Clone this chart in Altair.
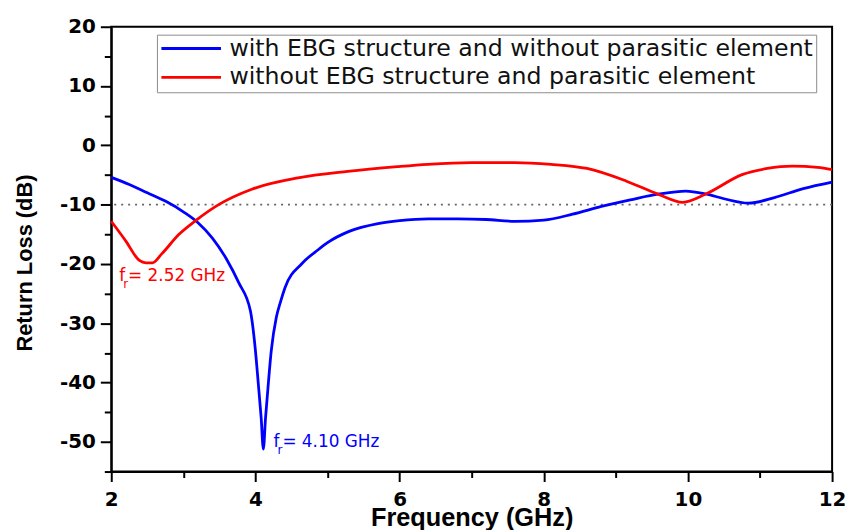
import altair as alt
import pandas as pd

SERIES_BLUE = "with EBG structure and without parasitic element"
SERIES_RED = "without EBG structure and parasitic element"

blue_freq = [2.0, 2.25, 2.5, 2.75, 3.0, 3.2, 3.4, 3.6, 3.77, 3.93, 4.0, 4.04, 4.08, 4.11,
             4.14, 4.16, 4.22, 4.29, 4.35, 4.41, 4.64, 4.87, 5.0, 5.3, 5.7, 6.0, 6.4, 6.8,
             7.2, 7.6, 8.0, 8.4, 8.8, 9.2, 9.6, 9.97, 10.25, 10.5, 10.84, 11.2, 11.6, 12.0]
blue_rl = [-5.4, -6.6, -8.0, -9.4, -11.2, -13.0, -15.6, -19.2, -23.2, -27.9, -34.6, -40.2,
           -46.0, -51.2, -46.0, -43.0, -34.6, -29.0, -26.3, -24.0, -20.0, -17.6, -16.4,
           -14.5, -13.2, -12.7, -12.4, -12.4, -12.5, -12.8, -12.6, -11.6, -10.3, -9.2,
           -8.2, -7.7, -8.2, -9.0, -9.75, -8.8, -7.3, -6.2]

red_freq = [2.0, 2.2, 2.39, 2.48, 2.57, 2.7, 2.94, 3.17, 3.49, 3.95, 4.59, 5.28, 5.97,
            6.39, 7.0, 7.59, 8.1, 8.6, 9.14, 9.6, 9.93, 10.25, 10.76, 11.1, 11.45, 11.8, 12.0]
red_rl = [-12.8, -16.1, -19.4, -19.8, -19.8, -18.3, -15.0, -12.7, -10.0, -7.4, -5.5, -4.4,
          -3.6, -3.2, -2.9, -2.9, -3.2, -3.9, -6.0, -8.3, -9.6, -8.2, -4.9, -3.9, -3.5,
          -3.7, -4.1]

x_major = [2, 4, 6, 8, 10, 12]
x_minor = [3, 5, 7, 9, 11]
y_major = [-50, -40, -30, -20, -10, 0, 10, 20]
y_minor = [-55, -45, -35, -25, -15, -5, 5, 15]
threshold = [-10]

ann_x = [2.11, 4.25]
ann_y = [-22.9, -50.8]
ann_text = ["= 2.52 GHz", "= 4.10 GHz"]
ann_sym = ["f", "f"]
ann_sub = ["r", "r"]
ann_color = ["#ff0000", "#0000ff"]

df = pd.DataFrame({
    "freq": blue_freq + red_freq,
    "rl": blue_rl + red_rl,
    "series": [SERIES_BLUE] * len(blue_freq) + [SERIES_RED] * len(red_freq),
})
ann = pd.DataFrame({"freq": ann_x, "rl": ann_y, "t": ann_text, "s": ann_sym,
                    "sub": ann_sub, "c": ann_color})
thr = pd.DataFrame({"rl": threshold})
xm = pd.DataFrame({"freq": x_minor})
ym = pd.DataFrame({"rl": y_minor})

x_scale = alt.Scale(domain=[2, 12], nice=False, zero=False)
y_scale = alt.Scale(domain=[-55, 20], nice=False, zero=False)

minus_fix = "replace(datum.label, '\u2212', '-')"

x_axis = alt.Axis(
    orient="bottom", values=x_major, tickSize=10, labelExpr=minus_fix,
    labelFlush=False, labelOverlap=False, labelPadding=8,
    title="Frequency (GHz)", titleFont="Liberation Sans", titleFontSize=25.5,
    titleFontWeight="bold", titleY=54, titleBaseline="alphabetic", titleColor="black",
)
y_axis = alt.Axis(
    orient="left", values=y_major, tickSize=11, labelExpr=minus_fix,
    labelOverlap=False, labelPadding=5,
    title="Return Loss (dB)", titleFont="Liberation Sans", titleFontSize=22,
    titleFontWeight="bold", titleX=-80, titleY=237.5, titleBaseline="alphabetic",
    titleAngle=270, titleColor="black",
)
x_axis_minor = alt.Axis(orient="bottom", values=x_minor, tickSize=6, labels=False,
                        domain=False, title=None)
y_axis_minor = alt.Axis(orient="left", values=y_minor, tickSize=7, labels=False,
                        domain=False, title=None)

lines = alt.Chart(df).mark_line(strokeWidth=2.8, interpolate="monotone").encode(
    x=alt.X("freq:Q", scale=x_scale, axis=x_axis),
    y=alt.Y("rl:Q", scale=y_scale, axis=y_axis),
    color=alt.Color(
        "series:N",
        scale=alt.Scale(domain=[SERIES_BLUE, SERIES_RED], range=["#0000ff", "#ff0000"]),
        legend=alt.Legend(
            title=None, orient="none", legendX=46, legendY=8,
            symbolType="stroke", symbolSize=3600, symbolStrokeWidth=3,
            labelFont="DejaVu Sans", labelFontSize=23.8, labelColor="#111111",
            labelLimit=900, labelOffset=7, strokeColor="#8c8c8c", fillColor="white",
            padding=3, clipHeight=22, rowPadding=5,
        ),
    ),
)

tick_x = alt.Chart(xm).mark_point(opacity=0).encode(
    x=alt.X("freq:Q", scale=x_scale, axis=x_axis_minor)
)
tick_y = alt.Chart(ym).mark_point(opacity=0).encode(
    y=alt.Y("rl:Q", scale=y_scale, axis=y_axis_minor)
)

rule = alt.Chart(thr).mark_rule(color="#666666", strokeDash=[2, 5], strokeWidth=1.6).encode(
    y=alt.Y("rl:Q", scale=y_scale, axis=None)
)

base_ann = alt.Chart(ann).encode(
    x=alt.X("freq:Q", scale=x_scale, axis=None),
    y=alt.Y("rl:Q", scale=y_scale, axis=None),
    color=alt.Color("c:N", scale=None),
)
t_f = base_ann.mark_text(align="left", baseline="alphabetic", font="DejaVu Sans",
                         fontSize=17).encode(text="s:N")
t_r = base_ann.mark_text(align="left", baseline="alphabetic", font="DejaVu Sans",
                         fontSize=12, dx=4, dy=7).encode(text="sub:N")
t_m = base_ann.mark_text(align="left", baseline="alphabetic", font="DejaVu Sans",
                         fontSize=17, dx=9).encode(text="t:N")

chart = alt.layer(rule, lines, tick_x, tick_y, t_f, t_r, t_m).resolve_scale(
    x="independent", y="independent"
).resolve_axis(
    x="independent", y="independent"
).properties(
    width=726, height=448,
    padding={"left": 104, "top": 17, "right": 13, "bottom": 57},
    autosize=alt.AutoSizeParams(type="none"),
    background="white",
).configure_view(
    stroke="black", strokeWidth=2
).configure_axis(
    domainColor="black", domainWidth=2, tickColor="black", tickWidth=2,
    labelFont="DejaVu Sans", labelFontWeight="bold", labelFontSize=20,
    labelColor="black", grid=False,
)

chart.save("out.html", embed_options={"renderer": "svg", "actions": False})
